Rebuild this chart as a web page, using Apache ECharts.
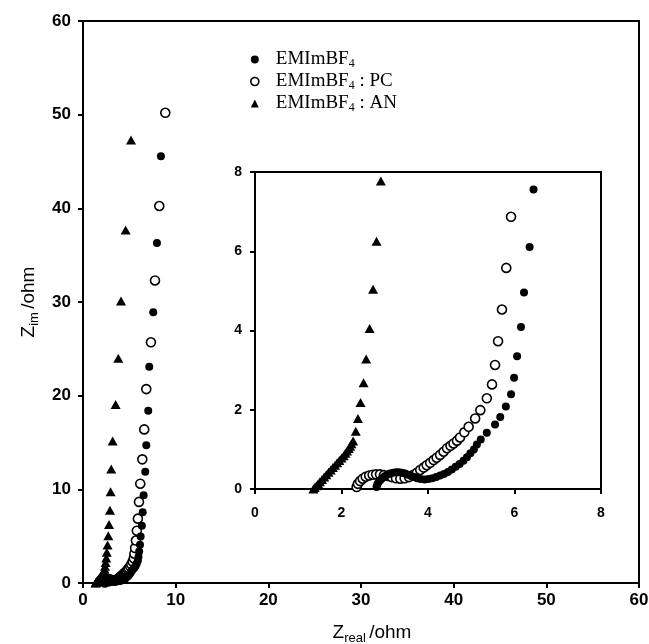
<!DOCTYPE html>
<html><head><meta charset="utf-8">
<script src="https://cdn.jsdelivr.net/npm/echarts@6/dist/echarts.min.js"></script>
<style>html,body{margin:0;padding:0;background:#fff}#c{width:649px;height:644px}</style>
</head><body><div id="c"></div>
<script>
// Series names
const seriesNames = ['EMImBF4', 'EMImBF4 : PC', 'EMImBF4 : AN'];

// EMImBF4 (filled circles): [Zreal, Zim]
const emimData = [[2.81,0.05],[2.83,0.12],[2.86,0.18],[2.9,0.23],[2.95,0.28],[3.0,0.32],[3.06,0.36],[3.12,0.39],[3.19,0.41],[3.26,0.42],[3.33,0.42],[3.4,0.41],[3.47,0.39],[3.54,0.36],[3.61,0.33],[3.68,0.3],[3.75,0.27],[3.83,0.25],[3.92,0.24],[4.01,0.25],[4.1,0.27],[4.19,0.3],[4.28,0.34],[4.37,0.38],[4.46,0.43],[4.55,0.49],[4.64,0.56],[4.73,0.63],[4.82,0.71],[4.9,0.8],[4.98,0.9],[5.06,1.0],[5.13,1.12],[5.22,1.25],[5.36,1.42],[5.55,1.63],[5.67,1.82],[5.8,2.08],[5.92,2.39],[5.99,2.81],[6.06,3.35],[6.15,4.09],[6.22,4.96],[6.35,6.11],[6.44,7.56],[6.54,9.38],[6.72,11.87],[6.83,14.7],[7.04,18.4],[7.15,23.1],[7.58,28.9],[7.98,36.3],[8.41,45.55]];

// EMImBF4 : PC (open circles)
const pcData = [[2.35,0.05],[2.38,0.13],[2.43,0.2],[2.49,0.26],[2.56,0.31],[2.64,0.34],[2.72,0.36],[2.8,0.37],[2.89,0.37],[2.98,0.35],[3.07,0.33],[3.16,0.3],[3.26,0.27],[3.36,0.26],[3.46,0.27],[3.56,0.3],[3.65,0.35],[3.74,0.41],[3.82,0.48],[3.9,0.54],[3.97,0.6],[4.05,0.66],[4.13,0.73],[4.2,0.79],[4.28,0.86],[4.36,0.94],[4.44,1.03],[4.52,1.09],[4.59,1.15],[4.67,1.22],[4.74,1.3],[4.84,1.43],[4.94,1.57],[5.09,1.78],[5.21,1.99],[5.36,2.29],[5.48,2.64],[5.55,3.13],[5.62,3.73],[5.71,4.53],[5.81,5.58],[5.92,6.87],[6.04,8.66],[6.18,10.6],[6.4,13.2],[6.61,16.4],[6.83,20.7],[7.33,25.7],[7.77,32.3],[8.23,40.25],[8.88,50.2]];

// EMImBF4 : AN (triangles)
const anData = [[1.35,0.0],[1.38,0.04],[1.42,0.08],[1.46,0.13],[1.5,0.18],[1.55,0.24],[1.6,0.3],[1.65,0.36],[1.7,0.42],[1.75,0.48],[1.8,0.54],[1.85,0.6],[1.9,0.66],[1.95,0.72],[2.0,0.78],[2.05,0.84],[2.09,0.9],[2.13,0.96],[2.17,1.02],[2.2,1.08],[2.23,1.14],[2.27,1.21],[2.33,1.46],[2.38,1.78],[2.44,2.18],[2.51,2.68],[2.57,3.28],[2.65,4.05],[2.73,5.04],[2.81,6.25],[2.91,7.77],[2.98,9.73],[3.05,12.16],[3.2,15.15],[3.52,19.07],[3.81,24.0],[4.1,30.1],[4.6,37.7],[5.18,47.3]];

// Axis ranges / ticks
const mainMin = 0, mainMax = 60, mainStep = 10;
const insetMin = 0, insetMax = 8, insetStep = 2;

const chart = echarts.init(document.getElementById('c'), null, {renderer:'canvas'});
const sans = 'Liberation Sans, Arial, sans-serif';
const serif = 'Liberation Serif, Times New Roman, serif';

function axisCommon(min, max, step, fs, margin) {
  return {
    type: 'value', min: min, max: max, interval: step,
    splitLine: {show: false},
    axisLine: {show: true, onZero: false, lineStyle: {color: '#000', width: 2}},
    axisTick: {show: true, inside: false, length: 5, lineStyle: {color: '#000', width: 2}},
    axisLabel: {color: '#000', fontFamily: sans, fontWeight: 'bold', fontSize: fs, margin: margin}
  };
}

const styles = [
  {symbol: 'circle', symbolSize: 8, itemStyle: {color: '#000', opacity: 1}},
  {symbol: 'circle', symbolSize: 9, itemStyle: {color: '#fff', borderColor: '#000', borderWidth: 1.6, opacity: 1}},
  {symbol: 'triangle', symbolSize: [10, 9], itemStyle: {color: '#000', opacity: 1}}
];
const datasets = [emimData, pcData, anData];
const drawOrder = [1, 0, 2];

const series = [];
[0, 1].forEach(function (g) {
  drawOrder.forEach(function (i) {
    series.push(Object.assign({
      type: 'scatter', name: seriesNames[i], xAxisIndex: g, yAxisIndex: g,
      data: datasets[i], clip: true, animation: false, z: 3,
      emphasis: {disabled: true}
    }, styles[i]));
  });
});

const nameRich = {
  n: {fontFamily: sans, fontSize: 19, color: '#000'},
  s: {fontFamily: sans, fontSize: 13, color: '#000', padding: [11, 0, 0, 0]}
};

const option = {
  backgroundColor: '#fff',
  animation: false,
  grid: [
    {left: 83, top: 21, right: 10, bottom: 61, show: true, borderColor: '#000', borderWidth: 2, backgroundColor: '#fff', containLabel: false, outerBoundsMode: 'none'},
    {left: 255, top: 172, right: 48, bottom: 155, show: true, borderColor: '#000', borderWidth: 2, backgroundColor: '#fff', containLabel: false, outerBoundsMode: 'none'}
  ],
  xAxis: [
    Object.assign(axisCommon(mainMin, mainMax, mainStep, 17, 9), {gridIndex: 0,
      name: '{n|Z}{s|real} {n|/ohm}', nameLocation: 'middle', nameGap: 38,
      nameTextStyle: {padding: [0, 0, 0, 22], rich: nameRich}}),
    Object.assign(axisCommon(insetMin, insetMax, insetStep, 14, 17), {gridIndex: 1})
  ],
  yAxis: [
    Object.assign(axisCommon(mainMin, mainMax, mainStep, 17, 12), {gridIndex: 0,
      name: '{n|Z}{s|im} {n|/ohm}', nameLocation: 'middle', nameGap: 42,
      nameTextStyle: {rich: nameRich}}),
    Object.assign(axisCommon(insetMin, insetMax, insetStep, 14, 13), {gridIndex: 1})
  ],
  legend: {
    orient: 'vertical', left: 245, top: 44, itemWidth: 8, itemHeight: 8, itemGap: 1,
    selectedMode: false,
    data: [
      {name: seriesNames[0], icon: 'circle', itemStyle: {color: '#000', opacity: 1}},
      {name: seriesNames[1], icon: 'circle', itemStyle: {color: '#fff', borderColor: '#000', borderWidth: 1.6, opacity: 1}},
      {name: seriesNames[2], icon: 'triangle', itemStyle: {color: '#000', opacity: 1}}
    ],
    formatter: function (name) { return '{t|' + name.replace('BF4', 'BF}{s|4}{t|') + '}'; },
    textStyle: {fontFamily: serif, fontSize: 19, color: '#000', padding: [0, 0, 0, 12],
      rich: {
        t: {fontFamily: serif, fontSize: 19, color: '#000', lineHeight: 21},
        s: {fontFamily: serif, fontSize: 12, color: '#000', lineHeight: 12, padding: [9, 0, 0, 0]}
      }}
  },
  series: series
};
chart.setOption(option);
</script>
</body></html>
